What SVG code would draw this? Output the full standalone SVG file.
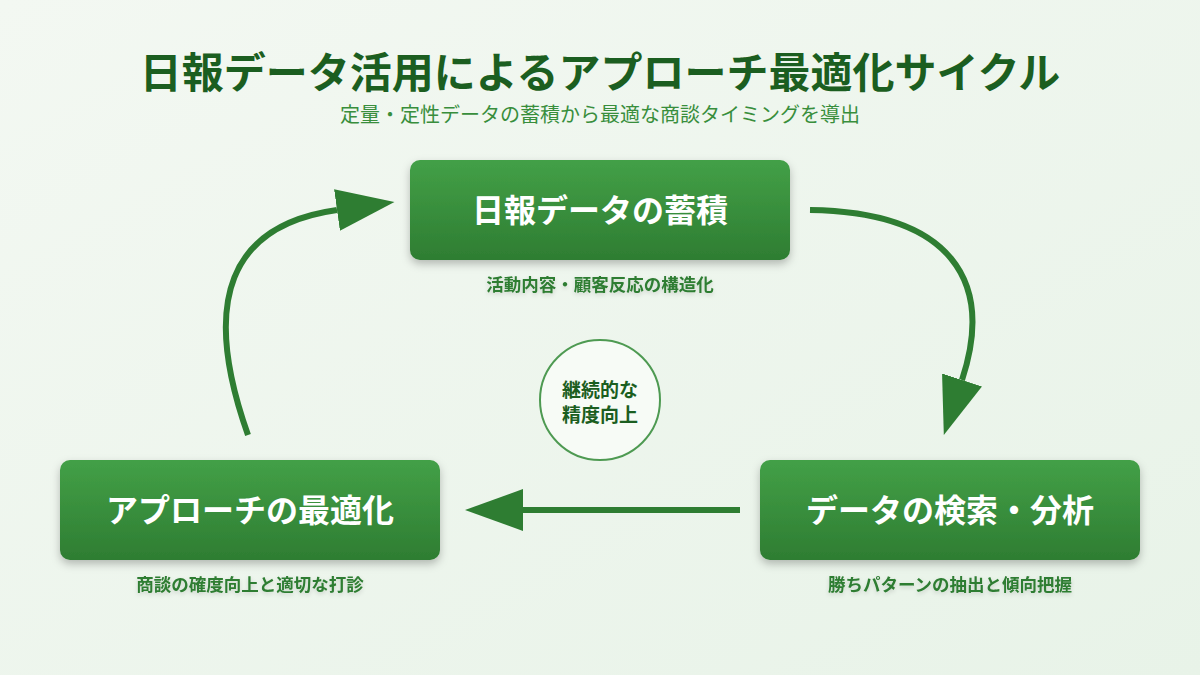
<svg xmlns="http://www.w3.org/2000/svg" width="1200" height="675" viewBox="0 0 1200 675">
<defs>
<linearGradient id="bg" x1="0" y1="0" x2="1" y2="1"><stop offset="0" stop-color="#f3f8f2"/><stop offset="1" stop-color="#e8f3e8"/></linearGradient>
<linearGradient id="g" x1="0" y1="0" x2="0" y2="1"><stop offset="0" stop-color="#43a047"/><stop offset="1" stop-color="#2e7d32"/></linearGradient>
<filter id="sh" x="-10%" y="-20%" width="120%" height="150%"><feDropShadow dx="0" dy="4" stdDeviation="4" flood-color="#000" flood-opacity="0.25"/></filter>
<filter id="ts"><feDropShadow dx="0" dy="2" stdDeviation="2" flood-color="#000" flood-opacity="0.15"/></filter>
<marker id="ah" markerUnits="userSpaceOnUse" markerWidth="60" markerHeight="42" refX="0" refY="21" orient="auto"><path d="M0,0 L58,21 L0,42 z" fill="#2e7d32"/></marker>
<style>
text{font-family:"Noto Sans CJK JP","Noto Sans CJK SC",sans-serif;text-anchor:middle}
.box{fill:url(#g);filter:url(#sh)}
.bt{fill:#fff;font-size:32px;font-weight:700}
.sub{fill:#2e7d32;font-size:17.5px;font-weight:700;filter:url(#ts)}
.c{fill:none;stroke:#2e7d32;stroke-width:6;marker-end:url(#ah)}
</style>
</defs>
<rect width="1200" height="675" fill="url(#bg)"/>
<text x="600" y="88" font-size="42" font-weight="700" fill="#1b5e20">日報データ活用によるアプローチ最適化サイクル</text>
<text x="600" y="122" font-size="20" fill="#388e3c">定量・定性データの蓄積から最適な商談タイミングを導出</text>
<g id="connectors">
<path class="c" d="M248,435 C200,300 230,225 337,210"/>
<path class="c" d="M810,210 C950,212 995,280 962,380"/>
<path class="c" d="M740,510 L523,510"/>
</g>
<g id="n1"><rect class="box" x="410" y="160" width="380" height="100" rx="10"/><text class="bt" x="600" y="222">日報データの蓄積</text><text class="sub" x="600" y="291">活動内容・顧客反応の構造化</text></g>
<g id="n2"><rect class="box" x="760" y="460" width="380" height="100" rx="10"/><text class="bt" x="950" y="522">データの検索・分析</text><text class="sub" x="950" y="591">勝ちパターンの抽出と傾向把握</text></g>
<g id="n3"><rect class="box" x="60" y="460" width="380" height="100" rx="10"/><text class="bt" x="250" y="522">アプローチの最適化</text><text class="sub" x="250" y="591">商談の確度向上と適切な打診</text></g>
<g id="center"><circle cx="600" cy="400" r="60" fill="#f7fbf6" stroke="#4e9a52" stroke-width="2"/><text x="600" y="397" font-size="19" font-weight="700" fill="#1b5e20">継続的な</text><text x="600" y="422" font-size="19" font-weight="700" fill="#1b5e20">精度向上</text></g>
</svg>
